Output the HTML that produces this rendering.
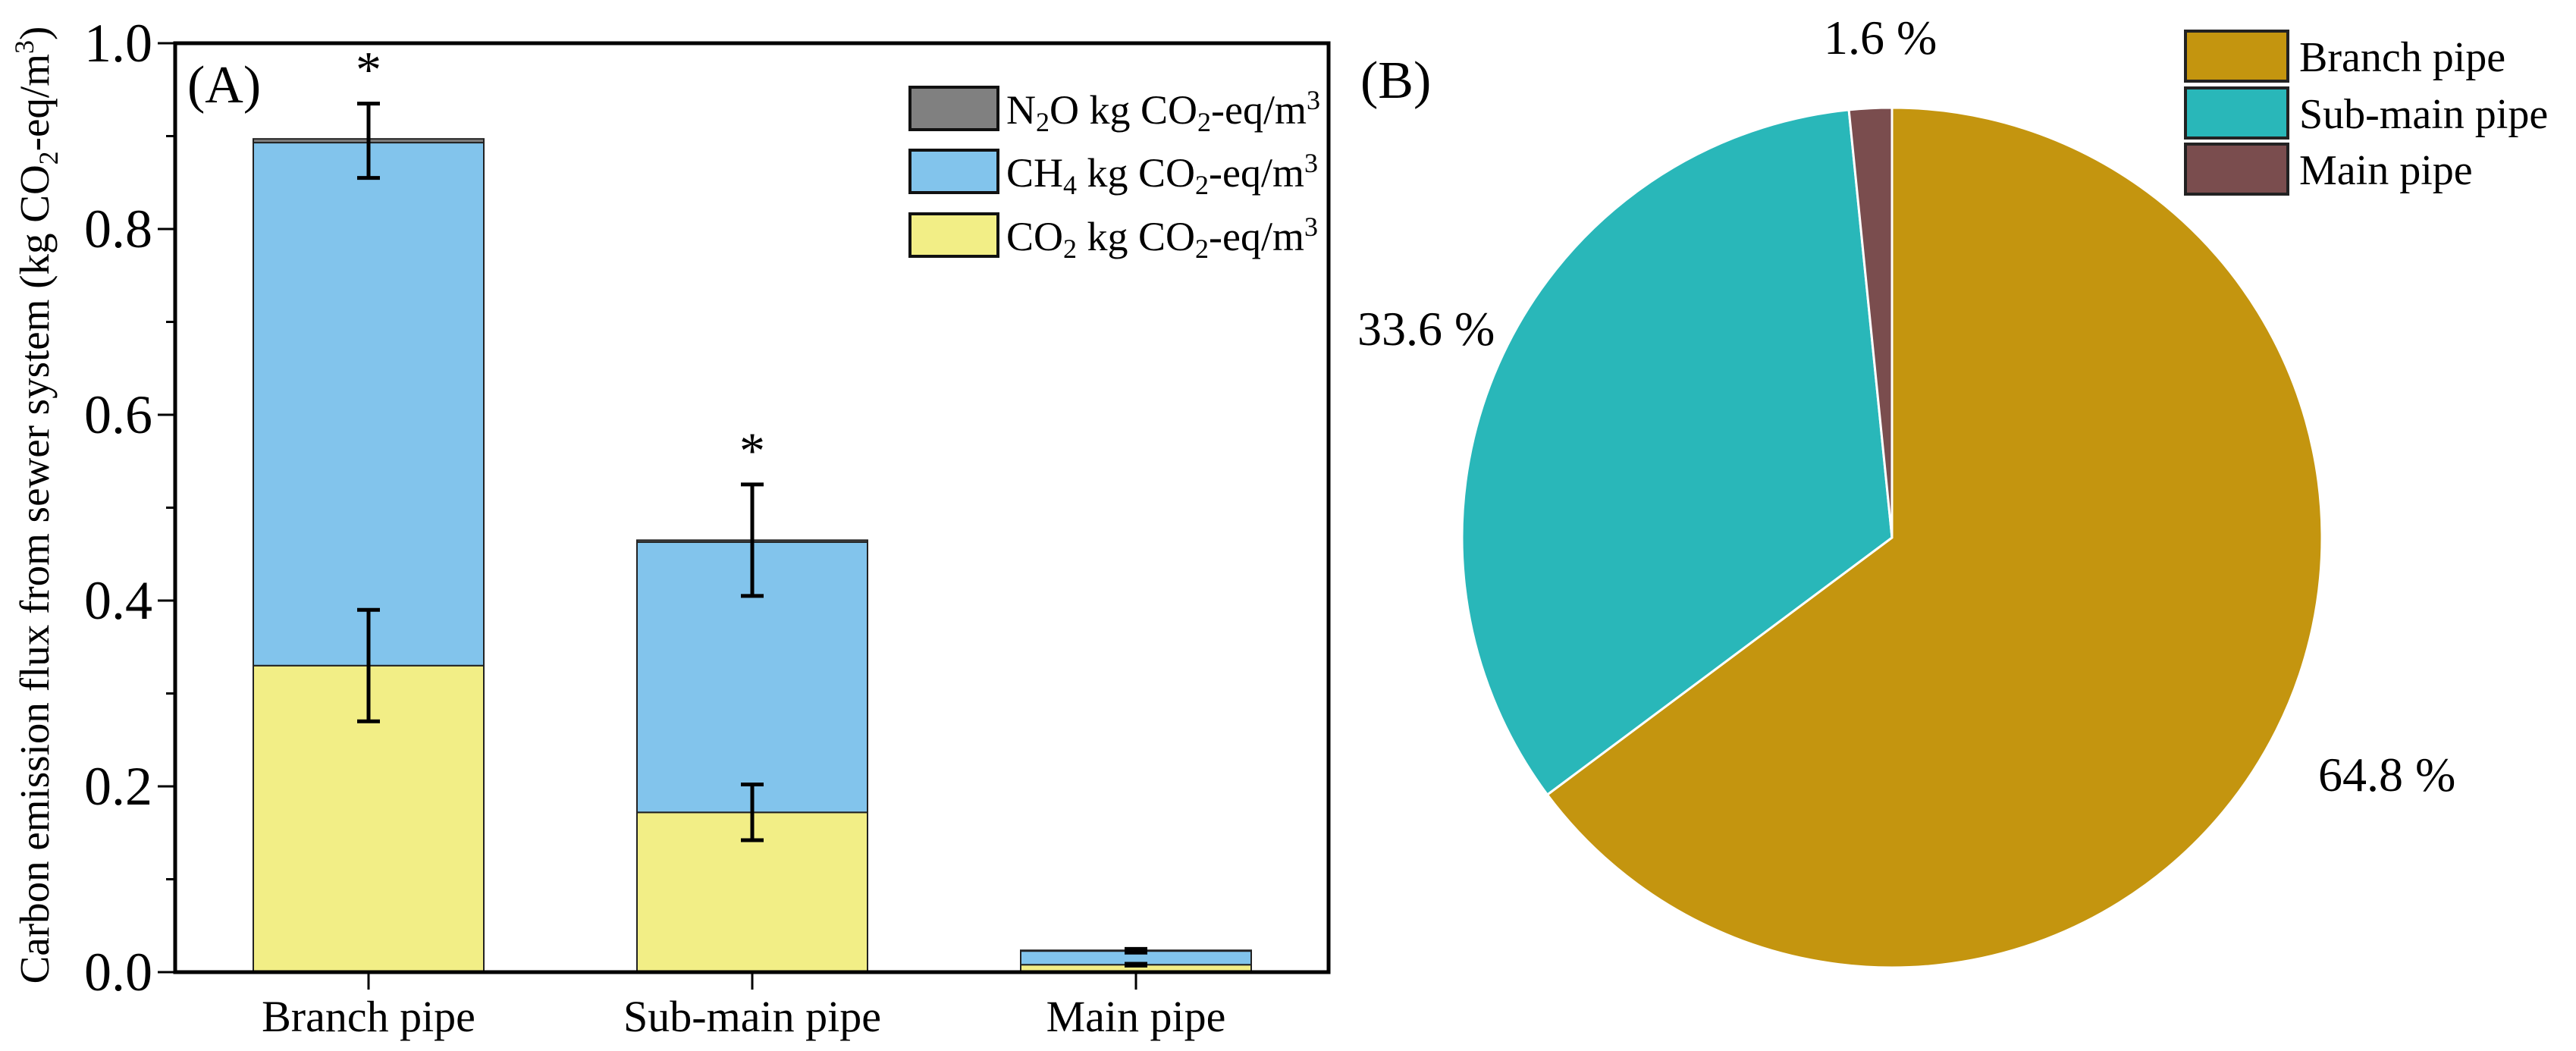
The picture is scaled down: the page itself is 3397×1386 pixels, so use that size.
<!DOCTYPE html>
<html><head><meta charset="utf-8"><style>
html,body{margin:0;padding:0;background:#fff;}
svg{display:block;font-family:"Liberation Serif",serif;}
</style></head><body>
<svg id="fig" width="3397" height="1386" viewBox="0 0 3397 1386" xmlns="http://www.w3.org/2000/svg"></svg>
<script>
const categories = ["Branch pipe", "Sub-main pipe", "Main pipe"];
const co2Values = [0.330, 0.172, 0.008];
const ch4Values = [0.563, 0.291, 0.015];
const n2oValues = [0.004, 0.002, 0.0005];
const co2ErrLow = [0.270, 0.142, 0.007];
const co2ErrHigh = [0.390, 0.202, 0.009];
const totalErrLow = [0.855, 0.405, 0.021];
const totalErrHigh = [0.935, 0.525, 0.025];
const significant = [true, true, false];
const yTicks = [0.0, 0.2, 0.4, 0.6, 0.8, 1.0];
const yTickLabels = ["0.0", "0.2", "0.4", "0.6", "0.8", "1.0"];
const pieLabels = ["Branch pipe", "Sub-main pipe", "Main pipe"];
const pieValues = [64.8, 33.6, 1.6];
const pieValueLabels = ["64.8 %", "33.6 %", "1.6 %"];

const NS = "http://www.w3.org/2000/svg";
const svg = document.getElementById("fig");
function mk(tag, attrs, parent) {
  const e = document.createElementNS(NS, tag);
  for (const k in attrs) e.setAttribute(k, attrs[k]);
  (parent || svg).appendChild(e);
  return e;
}
const L = 231, R = 1752, B = 1282, T = 57;
const yScale = v => B - (B - T) * v / 1.0;
const xCenters = [486, 992, 1498];
const xScale = i => xCenters[i];
const halfW = 152;

const colors = {co2: "#F2EE86", ch4: "#82C4EC", n2o: "#808080"};
categories.forEach((c, i) => {
  const x0 = xScale(i) - halfW;
  const y0 = yScale(co2Values[i]);
  let r = mk("rect", {x: x0, y: y0, width: 2 * halfW, height: B - y0, fill: colors.co2, stroke: "#222", "stroke-width": 2});
  
  
  const y1 = yScale(co2Values[i] + ch4Values[i]);
  r = mk("rect", {x: x0, y: y1, width: 2 * halfW, height: y0 - y1, fill: colors.ch4, stroke: "#222", "stroke-width": 2});
  
  
  const y2 = yScale(co2Values[i] + ch4Values[i] + n2oValues[i]);
  r = mk("rect", {x: x0, y: y2, width: 2 * halfW, height: Math.max(y1 - y2, 1), fill: colors.n2o, stroke: "#222", "stroke-width": 2});
  
  
  [[co2ErrLow[i], co2ErrHigh[i], 'co2'], [totalErrLow[i], totalErrHigh[i], 'total']].forEach(e => {
    const g = mk("g", {stroke: "#000", "stroke-width": 5, fill: "none"});
    
    
    const cx = xScale(i), ya = yScale(e[0]), yb = yScale(e[1]);
    mk("line", {x1: cx, x2: cx, y1: ya, y2: yb}, g);
    mk("line", {x1: cx - 15, x2: cx + 15, y1: ya, y2: ya}, g);
    mk("line", {x1: cx - 15, x2: cx + 15, y1: yb, y2: yb}, g);
  });
  if (significant[i]) {
    const t = mk("text", {x: xScale(i), y: yScale(totalErrHigh[i]) - 22, "font-size": 68, "text-anchor": "middle"});
    t.textContent = "*";
    
    
  }
  mk("line", {x1: xScale(i), x2: xScale(i), y1: B, y2: B + 23, stroke: "#000", "stroke-width": 3});
  const tl = mk("text", {x: xScale(i), y: 1360, "font-size": 58, "text-anchor": "middle"});
  tl.textContent = c;
  
  
});
const frame = mk("rect", {x: L, y: T, width: R - L, height: B - T, fill: "none", stroke: "#000", "stroke-width": 5});


yTicks.forEach((v, k) => {
  mk("line", {x1: L - 23, x2: L, y1: yScale(v), y2: yScale(v), stroke: "#000", "stroke-width": 3});
  if (k < yTicks.length - 1) {
    const m = (v + yTicks[k + 1]) / 2;
    mk("line", {x1: L - 12, x2: L, y1: yScale(m), y2: yScale(m), stroke: "#000", "stroke-width": 3});
  }
  const t = mk("text", {x: L - 30, y: yScale(v) + 24, "font-size": 72, "text-anchor": "end"});
  t.textContent = yTickLabels[k];
  
  
});
</script>
<script>
(function(){
  const NS = "http://www.w3.org/2000/svg";
  const svg = document.getElementById("fig");
  const yt = document.createElementNS(NS, "text");
  yt.setAttribute("transform", "translate(64,666) rotate(-90)");
  yt.setAttribute("text-anchor", "middle");
  yt.setAttribute("font-size", "55");
  yt.innerHTML = 'Carbon emission flux from sewer system (kg CO<tspan font-size="36" dy="12">2</tspan><tspan dy="-12">-eq/m</tspan><tspan font-size="36" dy="-20">3</tspan><tspan dy="20">)</tspan>';
  
  
  svg.appendChild(yt);

  const a = document.createElementNS(NS, "text");
  a.setAttribute("x", "247"); a.setAttribute("y", "135"); a.setAttribute("font-size", "70");
  a.textContent = "(A)";
  
  
  svg.appendChild(a);
  const b = document.createElementNS(NS, "text");
  b.setAttribute("x", "1794"); b.setAttribute("y", "129"); b.setAttribute("font-size", "70");
  b.textContent = "(B)";
  
  
  svg.appendChild(b);

  const items = [["#808080", 'N<tspan font-size="36" dy="10">2</tspan><tspan dy="-10">O kg CO</tspan><tspan font-size="36" dy="10">2</tspan><tspan dy="-10">-eq/m</tspan><tspan font-size="36" dy="-19">3</tspan>', 115, 'legend-n2o'],
                 ["#82C4EC", 'CH<tspan font-size="36" dy="10">4</tspan><tspan dy="-10"> kg CO</tspan><tspan font-size="36" dy="10">2</tspan><tspan dy="-10">-eq/m</tspan><tspan font-size="36" dy="-19">3</tspan>', 198, 'legend-ch4'],
                 ["#F2EE86", 'CO<tspan font-size="36" dy="10">2</tspan><tspan dy="-10"> kg CO</tspan><tspan font-size="36" dy="10">2</tspan><tspan dy="-10">-eq/m</tspan><tspan font-size="36" dy="-19">3</tspan>', 282, 'legend-co2']];
  items.forEach(it => {
    const g = document.createElementNS(NS, "g");
    
    
    g.innerHTML = '<rect x="1200" y="' + it[2] + '" width="116" height="56" fill="' + it[0] + '" stroke="#111" stroke-width="4"/>' +
      '<text x="1327" y="' + (it[2] + 48) + '" font-size="54">' + it[1] + '</text>';
    svg.appendChild(g);
  });
})();
</script>
<script>
(function(){
  const NS = "http://www.w3.org/2000/svg";
  const svg = document.getElementById("fig");
  const pieColors = ["#C4950F", "#29B7B9", "#7A4D4E"];
  const cx = 2495, cy = 709, r = 567;
  const total = pieValues.reduce((s, v) => s + v, 0);
  let ang = 0;
  const labelPos = [[3057, 1043], [1790, 455], [2405, 71]];
  pieValues.forEach((v, i) => {
    const a0 = ang, a1 = ang + 360 * v / total;
    ang = a1;
    const p = a => [cx + r * Math.sin(a * Math.PI / 180), cy - r * Math.cos(a * Math.PI / 180)];
    const s = p(a0), e = p(a1);
    const large = (a1 - a0) > 180 ? 1 : 0;
    const path = document.createElementNS(NS, "path");
    path.setAttribute("d", "M" + cx + "," + cy + " L" + s[0] + "," + s[1] + " A" + r + "," + r + " 0 " + large + " 1 " + e[0] + "," + e[1] + " Z");
    path.setAttribute("fill", pieColors[i]);
    path.setAttribute("stroke", "#fff");
    path.setAttribute("stroke-width", "3");
    
    
    svg.appendChild(path);
    const t = document.createElementNS(NS, "text");
    t.setAttribute("x", labelPos[i][0]); t.setAttribute("y", labelPos[i][1]);
    t.setAttribute("font-size", "64");
    t.textContent = pieValueLabels[i];
    
    
    svg.appendChild(t);
    const g = document.createElementNS(NS, "g");
    
    
    const ys = [41, 116, 190][i];
    g.innerHTML = '<rect x="2882" y="' + ys + '" width="135" height="66" fill="' + pieColors[i] + '" stroke="#222" stroke-width="4"/>' +
      '<text x="3032" y="' + (ys + 53) + '" font-size="56">' + pieLabels[i] + '</text>';
    svg.appendChild(g);
  });
})();
</script>
</body></html>
